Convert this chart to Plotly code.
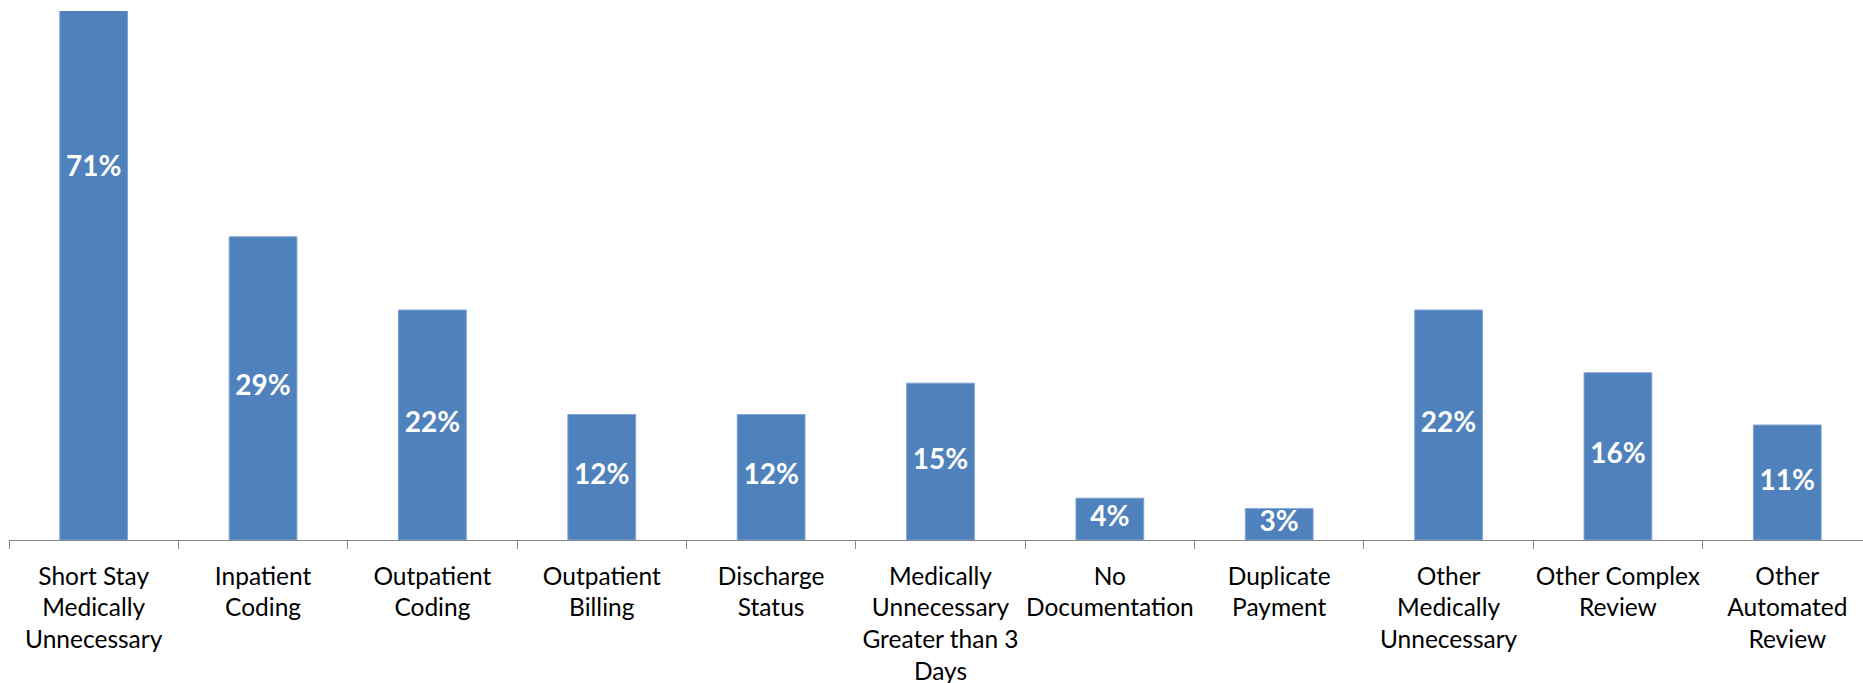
import plotly.graph_objects as go

# Review categories and share of claims with improper payments (%)
categories = [
    "Short Stay<br>Medically<br>Unnecessary",
    "Inpatient<br>Coding",
    "Outpatient<br>Coding",
    "Outpatient<br>Billing",
    "Discharge<br>Status",
    "Medically<br>Unnecessary<br>Greater than 3<br>Days",
    "No<br>Documentation",
    "Duplicate<br>Payment",
    "Other<br>Medically<br>Unnecessary",
    "Other Complex<br>Review",
    "Other<br>Automated<br>Review",
]
values = [71, 29, 22, 12, 12, 15, 4, 3, 22, 16, 11]
labels = [f"{v}%" for v in values]

BAR_COLOR = "#4F81BD"
AXIS_COLOR = "#888888"

fig = go.Figure()
fig.add_trace(go.Bar(
    x=categories,
    y=values,
    width=0.4,
    marker=dict(color=BAR_COLOR, line=dict(color="#7EA3D3", width=1)),
    hoverinfo="skip",
))
# value labels centred on each bar's full height
fig.add_trace(go.Scatter(
    x=categories,
    y=[v / 2 for v in values],
    mode="text",
    text=labels,
    textposition="middle center",
    textfont=dict(family="Lato", size=28, color="white", weight="bold"),
    hoverinfo="skip",
    cliponaxis=False,
))

fig.update_layout(
    width=1863,
    height=683,
    margin=dict(l=9, r=0, t=11, b=143),
    paper_bgcolor="white",
    plot_bgcolor="white",
    showlegend=False,
    bargap=0.6,
)
fig.update_xaxes(
    type="category",
    range=[-0.5, 10.447],
    tickson="boundaries",
    ticks="outside",
    ticklen=8,
    tickwidth=1.3,
    tickcolor=AXIS_COLOR,
    tickangle=0,
    ticklabelstandoff=14,
    showline=True,
    linecolor=AXIS_COLOR,
    linewidth=1.3,
    showgrid=False,
    automargin=False,
    tickfont=dict(family="Lato", size=24.5, color="black"),
)
fig.update_yaxes(
    range=[0, 50.6],
    visible=False,
    showgrid=False,
    zeroline=False,
)

fig.write_html("out.html")
